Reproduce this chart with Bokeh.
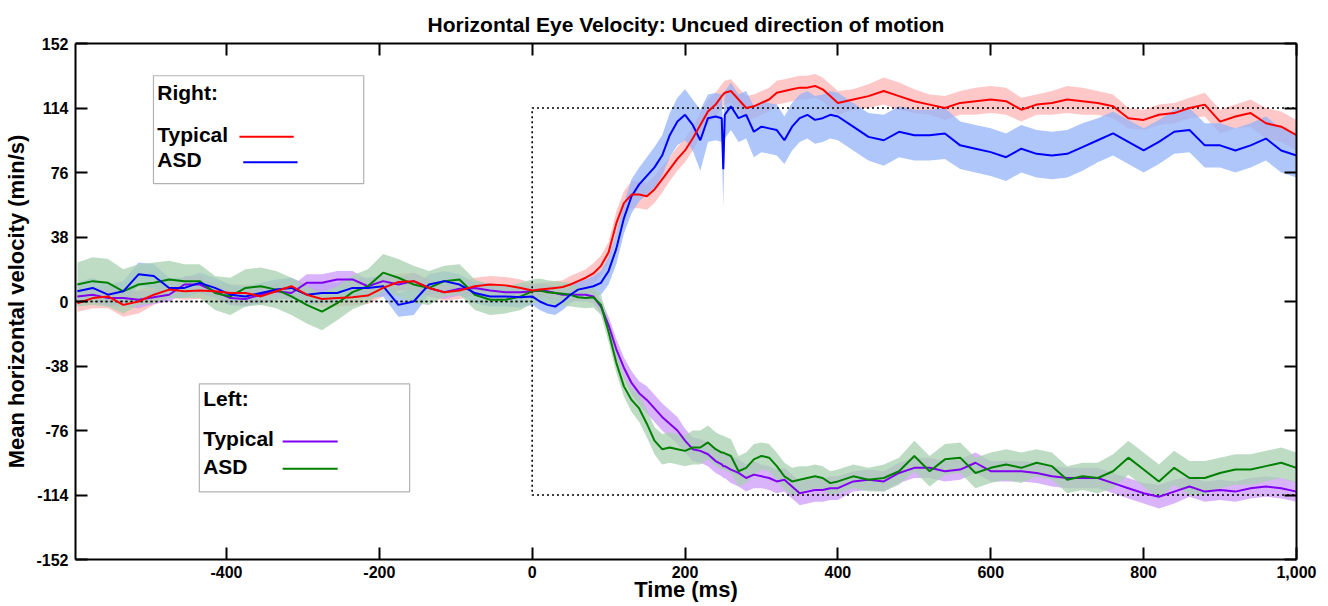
from bokeh.plotting import figure
from bokeh.models import (Range1d, FixedTicker, LinearAxis, NumeralTickFormatter,
                          BoxAnnotation, Label, Arrow)
from bokeh.embed import file_html
from bokeh.resources import INLINE

# ---------------- data ----------------
time_ms = (list(range(-595, 0, 20)) + list(range(0, 250, 10)) + [248, 250, 252]
           + list(range(260, 410, 10)) + list(range(420, 1001, 20)))

right_typical = [
    -1, 2, 3, -2, 0, 4, 7, 6, 6.5, 6, 5, 5, 3, 6, 9, 4, 1.5, 2, 2.5, 3.5, 8, 11.5, 12, 8, 5.5, 6.5, 9, 10, 9.5, 8,
    6.5, 7, 7.5, 8, 8.5, 10, 12, 14, 16.5, 21, 29, 46, 58, 63, 63, 62, 66, 72, 78, 84, 89, 96, 104, 112, 116,
    121, 122, 123,
    124, 119, 114, 115, 117, 119, 123, 124, 125, 126, 126, 127, 125, 121, 117,
    119, 121, 124, 121, 118, 116, 114, 117, 118, 119, 118, 113, 116, 117, 119, 118, 117, 115, 108, 107,
    110, 111, 114, 116, 106, 109, 111, 105, 103, 98]
right_asd = [
    6, 8, 4, 6, 16, 15, 8, 8, 11, 8, 4, 3, 5, 7, 8, 4, 5, 5, 8, 8, 9, -2, 0, 10, 12, 10, 5, 3, 3, 2.5,
    3, 0, -2, -3, 0, 4, 7, 8, 9, 11, 18, 31, 49, 62, 69, 74, 79, 86, 98, 106, 110, 104, 95, 108, 109,
    108, 78, 110,
    115, 108, 110, 100, 103, 102, 101, 95, 103, 108, 110, 107, 108, 110, 109,
    103, 97, 95, 100, 98, 98, 99, 92, 90, 88, 85, 90, 87, 86, 87, 91, 95, 99, 94, 89,
    94, 100, 101, 92, 92, 89, 92, 96, 89, 86]
left_typical = [
    3, 4, 2, 2, 1, 2.5, 4, 10, 10, 6, 2, 1.5, 4, 6, 5, 11, 11, 13, 13, 9, 12, 10, 12, 8, 5.5, 7.5, 8, 6.5, 5.5, 5.5,
    6, 6.5, 6, 5, 4, 4, 4, 4, 3, -3, -14, -28, -39, -48, -54, -58, -63, -68, -72, -76, -82, -87, -88, -90, -94,
    -96, -97, -97,
    -99, -101, -104, -102, -103, -104, -106, -105, -109, -113, -112, -111, -111, -110, -110,
    -106, -105, -106, -101, -98, -98, -100, -99, -95, -100, -100, -100, -101, -103, -104, -104, -104, -107, -110, -113,
    -115, -112, -109, -112, -111, -112, -110, -109, -110, -112]
left_asd = [
    10, 12, 11, 6, 10, 11, 13, 12, 12, 5, 3, 8, 9, 7, 3, -2, -6, -1, 5.5, 9, 17, 14, 10, 8, 12, 13, 4, 1, 1, 3,
    6, 6.5, 5.5, 5, 4.5, 4, 2.5, 2, 2.5, -2, -18, -36, -50, -58, -63, -72, -82, -87, -86, -87, -88, -86, -86, -83, -87,
    -89, -89, -89.5,
    -91, -100, -98, -93, -91, -92, -97, -103, -106, -105, -104, -103, -104, -107, -106,
    -103, -105, -104, -100, -91, -100, -93, -92, -101, -98, -96, -98, -95, -97, -105, -103, -104, -100, -92, -99,
    -106, -98, -104, -104, -101, -99, -99, -97, -95, -98]

# half-width of the shaded error band of each series
right_typical_err = [
    5, 6, 7, 7, 7, 6, 5, 5, 5, 5, 5, 5, 5, 5, 5, 5, 5, 5, 5, 5, 5, 5, 5, 5, 5, 5, 5, 5, 5, 5,
    4, 4, 4, 4, 4, 5, 5, 5, 6, 6, 6, 7, 7, 8, 8, 8, 8, 8, 7, 7, 7, 7, 7, 7, 7,
    7, 7, 7,
    7, 7, 7, 7, 7, 7, 7, 7, 7, 7, 7, 7, 7, 7, 7,
    6, 7, 8, 8, 7, 6, 7, 7, 8, 8, 8, 7, 6, 7, 8, 8, 7, 7, 6, 6,
    6, 6, 6, 7, 7, 7, 8, 9, 9, 9]
right_asd_err = [
    5, 6, 6, 6, 7, 7, 6, 6, 6, 6, 6, 6, 6, 6, 6, 6, 6, 6, 6, 6, 6, 7, 8, 6, 6, 6, 6, 6, 6, 6,
    5, 5, 5, 5, 5, 5, 5, 5, 6, 7, 8, 9, 9, 10, 10, 11, 12, 12, 13, 14, 15, 15, 18, 14, 14,
    14, 22, 14,
    14, 14, 14, 15, 15, 15, 15, 14, 14, 14, 14, 14, 14, 14, 14,
    14, 14, 15, 15, 15, 15, 15, 14, 14, 14, 14, 14, 14, 14, 14, 14, 13, 13, 13, 13,
    13, 13, 13, 13, 13, 13, 13, 13, 13, 13]
left_typical_err = [
    4, 4, 5, 5, 5, 4, 4, 5, 5, 4, 4, 4, 4, 4, 4, 5, 5, 5, 5, 4, 4, 4, 5, 5, 4, 4, 4, 4, 4, 4,
    4, 4, 4, 4, 4, 4, 4, 4, 4, 4, 5, 6, 6, 7, 7, 8, 8, 8, 8, 8, 7, 7, 7, 7, 7,
    7, 7, 7,
    8, 8, 8, 8, 7, 7, 7, 7, 7, 7, 7, 7, 7, 7, 7,
    6, 6, 6, 6, 6, 6, 6, 6, 6, 6, 6, 6, 6, 6, 6, 6, 6, 6, 6, 6,
    7, 7, 6, 6, 6, 6, 6, 6, 6, 6]
left_asd_err = [
    13, 14, 14, 13, 12, 12, 11, 10, 10, 10, 11, 11, 11, 11, 11, 11, 11, 10, 10, 10, 11, 11, 11, 10, 9, 9, 9, 9, 8, 8,
    7, 7, 7, 7, 7, 7, 6, 6, 6, 6, 6, 6, 6, 7, 8, 8, 8, 9, 9, 9, 9, 10, 10, 10, 10,
    10, 10, 10,
    10, 9, 9, 9, 8, 8, 8, 8, 8, 8, 7, 7, 7, 7, 7,
    7, 7, 8, 8, 9, 9, 9, 9, 9, 9, 9, 9, 8, 8, 8, 8, 9, 10, 10, 10,
    10, 10, 10, 10, 9, 9, 9, 9, 9, 9]

# target (stimulus) velocity: step at t = 0
target_t = [-597.5, 0, 0, 1000]
target_right = [0, 0, 114, 114]
target_left = [0, 0, -114, -114]

x_ticks = [-400, -200, 0, 200, 400, 600, 800, 1000]
y_ticks = [-152, -114, -76, -38, 0, 38, 76, 114, 152]

FONT = "Liberation Sans"

# ---------------- figure ----------------
p = figure(width=1320, height=606, output_backend="svg", toolbar_location=None,
           x_range=Range1d(-597.5, 1000), y_range=Range1d(-152, 152),
           min_border_left=75, min_border_right=24, min_border_top=43, min_border_bottom=47)

p.title.text = "Horizontal Eye Velocity: Uncued direction of motion"
p.title.align = "center"
p.title.text_font = FONT
p.title.text_font_size = "21px"
p.title.text_font_style = "bold"
p.title.text_color = "black"
p.title.offset = 0
p.title.standoff = 15

p.xgrid.visible = False
p.ygrid.visible = False
p.outline_line_color = None
p.background_fill_color = "white"
p.border_fill_color = "white"


def style_axis(ax, show_labels=True):
    ax.axis_line_width = 2
    ax.axis_line_color = "black"
    ax.major_tick_in = 12
    ax.major_tick_out = 0
    ax.major_tick_line_width = 2
    ax.major_tick_line_color = "black"
    ax.minor_tick_line_color = None
    ax.major_label_text_font = FONT
    ax.major_label_text_font_style = "bold"
    ax.major_label_text_font_size = "16px"
    ax.major_label_text_color = "black" if show_labels else None
    ax.major_label_standoff = 5 if show_labels else 0
    ax.axis_label_text_font = FONT
    ax.axis_label_text_font_style = "bold"
    ax.axis_label_text_font_size = "22px"
    ax.axis_label_text_color = "black"


p.xaxis.ticker = FixedTicker(ticks=x_ticks)
p.xaxis.formatter = NumeralTickFormatter(format="0,0")
p.xaxis.axis_label = "Time (ms)"
p.yaxis.ticker = FixedTicker(ticks=y_ticks)
p.yaxis.formatter = NumeralTickFormatter(format="0")
p.yaxis.axis_label = "Mean horizontal velocity (min/s)"
style_axis(p.xaxis[0])
style_axis(p.yaxis[0])
p.xaxis.major_label_standoff = 6
p.xaxis.axis_label_standoff = -4
p.yaxis.major_label_standoff = 7
p.yaxis.axis_label_standoff = 4

top_ax = LinearAxis(ticker=FixedTicker(ticks=x_ticks), formatter=NumeralTickFormatter(format="0,0"))
style_axis(top_ax, show_labels=False)
p.add_layout(top_ax, "above")
right_ax = LinearAxis(ticker=FixedTicker(ticks=y_ticks), formatter=NumeralTickFormatter(format="0"))
style_axis(right_ax, show_labels=False)
p.add_layout(right_ax, "right")

# ---------------- bands ----------------
series = [
    (right_typical, right_typical_err, "#ff0000", "#ffb6b6"),
    (right_asd, right_asd_err, "#0000ff", "#93b3f8"),
    (left_typical, left_typical_err, "#8000f0", "#ce9bf8"),
    (left_asd, left_asd_err, "#008000", "#a8d0b0"),
]
for vals, err, lc, bc in series:
    lower = [v - e for v, e in zip(vals, err)]
    upper = [v + e for v, e in zip(vals, err)]
    p.varea(x=time_ms, y1=lower, y2=upper, fill_color=bc, fill_alpha=0.75)

# target velocity (dotted)
p.line(target_t, target_right, line_color="black", line_width=1.6, line_dash="2 3")
p.line(target_t, target_left, line_color="black", line_width=1.6, line_dash="2 3")

# ---------------- mean lines ----------------
for idx in [2, 3, 1, 0]:
    vals, err, lc, bc = series[idx]
    p.line(time_ms, vals, line_color=lc, line_width=2)

# ---------------- legends (drawn as in the original figure) ----------------
def legend_box(left, right, top, bottom, title, entries):
    p.add_layout(BoxAnnotation(left=left, right=right, top=top, bottom=bottom,
                               fill_color="white", fill_alpha=1.0,
                               line_color="black", line_width=1.2, level="overlay"))
    p.add_layout(Label(x=left + 5, y=title[1], text=title[0], text_font=FONT,
                       text_font_style="bold", text_font_size="21px", text_color="black",
                       text_baseline="middle", level="overlay"))
    for name, y, x0, x1, col in entries:
        p.add_layout(Label(x=left + 5, y=y, text=name, text_font=FONT,
                           text_font_style="bold", text_font_size="21px", text_color="black",
                           text_baseline="middle", level="overlay"))
        p.add_layout(Arrow(end=None, x_start=x0, y_start=y - 1.5, x_end=x1, y_end=y - 1.5,
                           line_color=col, line_width=2, level="overlay"))


legend_box(-495.5, -220.4, 133, 69.4, ("Right:", 123),
           [("Typical", 98.5, -383, -312, "#ff0000"),
            ("ASD", 83.5, -378, -307, "#0000ff")])
legend_box(-435.5, -160.3, -48.5, -112.2, ("Left:", -57.3),
           [("Typical", -81, -326.5, -254.5, "#8000f0"),
            ("ASD", -97, -326.5, -254.5, "#008000")])

open("out.html", "w").write(file_html(p, INLINE))
